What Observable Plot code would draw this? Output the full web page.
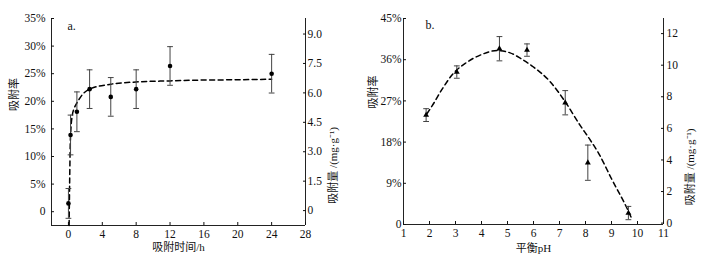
<!DOCTYPE html>
<html><head><meta charset="utf-8">
<script src="https://cdn.jsdelivr.net/npm/d3@7"></script>
<script src="https://cdn.jsdelivr.net/npm/@observablehq/plot@0.6"></script>
<style>
body{margin:0;background:#fff;}
#wrap{display:flex;width:703px;height:262px;}
</style></head><body><div id="wrap"></div>
<script>
// ---- Panel a: adsorption vs time ----
const timeH = [0, 0.25, 1, 2.5, 5, 8, 12, 24];
const rateA = [1.5, 13.9, 18.1, 22.2, 20.8, 22.2, 26.4, 25.0];
const errA = [2.7, 3.6, 3.6, 3.5, 3.5, 3.5, 3.5, 3.5];
const fitTimeA = [0.08, 0.14, 0.22, 0.3, 0.45, 0.7, 1, 1.7, 2.5, 5, 8, 12, 16, 20, 24];
const fitRateA = [-2.5, 5, 12.5, 15.2, 17.4, 18.8, 19.7, 21.3, 22.2, 23.1, 23.5, 23.7, 23.85, 23.9, 24.0];
const xDomA = [-2, 28];
const yDomA = [-2.5, 35];
const xTicksA = [0, 4, 8, 12, 16, 20, 24, 28];
const yTicksA = [0, 5, 10, 15, 20, 25, 30, 35];
const rightTicksA = [0, 1.5, 3.0, 4.5, 6.0, 7.5, 9.0];
const rightOffA = 0.2, rightKA = 3.554; // % per mg/g

// ---- Panel b: adsorption vs pH ----
const pH = [1.87, 3.05, 4.69, 5.75, 7.22, 8.09, 9.65];
const rateB = [23.9, 33.3, 38.4, 38.1, 26.6, 13.5, 2.5];
const errB = [1.4, 1.35, 2.65, 1.35, 2.65, 3.85, 1.45];
const fitPH = [1.9, 2.1, 2.5, 2.9, 3.4, 3.95, 4.6, 5.1, 5.5, 6.0, 6.64, 7.22, 7.8, 8.2, 8.5, 9.0, 9.65, 9.8];
const fitRateB = [24.2, 25.9, 29.7, 32.9, 35.3, 37.0, 38.0, 37.5, 36.3, 34.4, 31.2, 26.8, 21.6, 18.3, 15.6, 10.0, 2.9, 1.0];
const xDomB = [1, 11];
const yDomB = [0, 45];
const xTicksB = [1, 2, 3, 4, 5, 6, 7, 8, 9, 10, 11];
const yTicksB = [0, 9, 18, 27, 36, 45];
const rightTicksB = [0, 2, 4, 6, 8, 10, 12];
const rightOffB = 0.3, rightKB = 3.45;

const font = "'Liberation Serif','Times New Roman','Noto Sans CJK SC',serif";
const capShape = {draw(ctx, l) { ctx.moveTo(0, 0); ctx.lineTo(0, -l); }};
const errCol = "#444";

function pts(xs, ys, es) { return xs.map((x, i) => ({x, y: ys[i], lo: ys[i] - es[i], hi: ys[i] + es[i]})); }
function line(xs, ys) { return xs.map((x, i) => ({x, y: ys[i]})); }

function panel(o) {
  const right = o.rightTicks.map(v => ({p: o.rOff + o.rK * v, v}));
  const rMap = new Map(right.map(d => [d.p, d.v]));
  const P = pts(o.xs, o.ys, o.es);
  return Plot.plot({
    width: o.width, height: 262,
    marginLeft: o.mL, marginRight: o.mR, marginTop: 18, marginBottom: o.mB,
    style: {fontFamily: font, fontSize: "11.5px", color: "#111", background: "#fff", overflow: "visible"},
    x: {domain: o.xDom, label: null},
    y: {domain: o.yDom, label: null},
    marks: [
      Plot.ruleX(o.xDom, {stroke: "#222"}),
      Plot.ruleY([o.yDom[0]], {stroke: "#222"}),
      Plot.axisX(o.xTicks, {tickSize: -3, tickPadding: 7, tickFormat: d => String(d), label: null}),
      Plot.axisY(o.yTicks, {anchor: "left", tickSize: -3, tickPadding: o.lPad, tickFormat: d => d === 0 ? "0" : d + "%", label: null}),
      Plot.axisY(right.map(d => d.p), {anchor: "right", tickSize: -3, tickPadding: o.rPad, label: null,
        tickFormat: p => { const v = rMap.get(p); return v === 0 ? "0" : o.rFmt(v); }}),
      Plot.line(line(o.fx, o.fy), {x: "x", y: "y", stroke: "#000", strokeWidth: 1.5, strokeDasharray: "5,3.5", curve: "monotone-x"}),
      Plot.ruleX(P, {x: "x", y1: "lo", y2: "hi", stroke: errCol, strokeWidth: 1}),
      Plot.vector(P, {x: "x", y: "lo", length: 5, rotate: 90, anchor: "middle", shape: capShape, stroke: errCol, strokeWidth: 1}),
      Plot.vector(P, {x: "x", y: "hi", length: 5, rotate: 90, anchor: "middle", shape: capShape, stroke: errCol, strokeWidth: 1}),
      Plot.dot(P, {x: "x", y: "y", r: o.r, symbol: o.symbol, fill: "#000", stroke: "none"}),
      Plot.text([o.tag], {frameAnchor: "top-left", dx: o.tagDx, dy: o.tagDy, textAnchor: "start", fontSize: 12}),
      Plot.text(["吸附率"], {frameAnchor: "left", dx: o.lLabDx, dy: o.lLabDy, rotate: -90, fontSize: 11}),
      Plot.text(["吸附量 /(mg·g⁻¹)"], {frameAnchor: "right", dx: o.rLabDx, dy: o.rLabDy, rotate: -90, fontSize: 11}),
      Plot.text([o.xLabel], {frameAnchor: "bottom", dy: o.xLabDy, fontSize: 11})
    ]
  });
}

const wrap = document.getElementById("wrap");
wrap.append(panel({
  width: 351, mL: 51, mR: 46, mB: 37,
  xDom: xDomA, yDom: yDomA, xTicks: xTicksA, yTicks: yTicksA,
  rightTicks: rightTicksA, rOff: rightOffA, rK: rightKA, rFmt: v => v.toFixed(1),
  lPad: 9, rPad: 5,
  xs: timeH, ys: rateA, es: errA, fx: fitTimeA, fy: fitRateA,
  r: 2.3, symbol: "circle",
  tag: "a.", tagDx: 16, tagDy: 3,
  lLabDx: -37, lLabDy: -11, rLabDx: 28, rLabDy: 5,
  xLabel: "吸附时间/h", xLabDy: 25
}));
wrap.append(panel({
  width: 352, mL: 52, mR: 40, mB: 38,
  xDom: xDomB, yDom: yDomB, xTicks: xTicksB, yTicks: yTicksB,
  rightTicks: rightTicksB, rOff: rightOffB, rK: rightKB, rFmt: v => String(v),
  lPad: 5, rPad: 6,
  xs: pH, ys: rateB, es: errB, fx: fitPH, fy: fitRateB,
  r: 2.2, symbol: "triangle",
  tag: "b.", tagDx: 22, tagDy: 2,
  lLabDx: -30, lLabDy: -13, rLabDx: 27, rLabDy: 7,
  xLabel: "平衡pH", xLabDy: 27
}));
</script></body></html>
